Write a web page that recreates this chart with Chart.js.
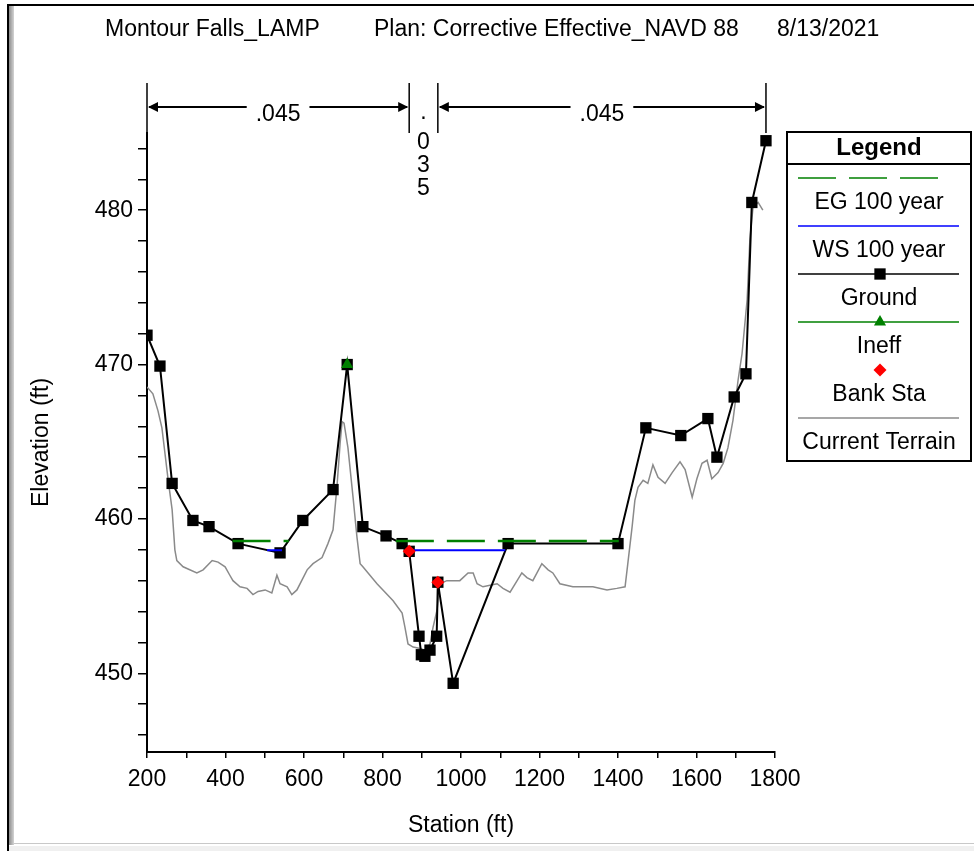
<!DOCTYPE html>
<html>
<head>
<meta charset="utf-8">
<title>Montour Falls_LAMP</title>
<script src="https://cdn.jsdelivr.net/npm/chart.js@4.4.1/dist/chart.umd.min.js"></script>
<style>
  html, body { margin: 0; padding: 0; background: #fff; }
  #wrap { position: relative; width: 974px; height: 851px; overflow: hidden; }
  #myChart { position: absolute; left: 0; top: 0; }
  .frame { position: absolute; }
  .f-top { left: 7px; top: 4px; right: 0; height: 2px; background: #000; }
  .f-left { left: 7px; top: 4px; width: 2px; bottom: 0; background: #000; }
  .f-left2 { left: 9px; top: 6px; width: 5px; height: 839px; background: linear-gradient(to right, #8c8c8c, #d4d4d4); }
  .f-bottom { left: 14px; top: 843px; right: 0; height: 1px; background: #c8c8c8; }
  .f-band { left: 9px; top: 846px; right: 0; bottom: 0; background: #f0f0f0; }
</style>
</head>
<body>
<div id="wrap">
  <canvas id="myChart" width="974" height="851"></canvas>
  <div class="frame f-top"></div>
  <div class="frame f-left"></div>
  <div class="frame f-left2"></div>
  <div class="frame f-bottom"></div>
  <div class="frame f-band"></div>
</div>
<script>
// header line
const titleParts = ["Montour Falls_LAMP", "Plan: Corrective Effective_NAVD 88", "8/13/2021"];

// manning's n regions (station breaks + values)
const nBounds = [200, 868, 941, 1777];
const nValues = [".045", ".035", ".045"];

// ground points (station, elevation)
const groundSta = [200, 233, 264, 317, 358, 432, 539, 597, 674, 710, 750, 809, 850, 868,
  893, 899, 908, 921, 938, 941, 980, 1120, 1400, 1471, 1560, 1629, 1652, 1696, 1726, 1741, 1777];
const groundElev = [471.9, 469.9, 462.3, 459.9, 459.5, 458.4, 457.8, 459.9, 461.9, 470.0, 459.5, 458.9, 458.4, 457.9,
  452.4, 451.2, 451.1, 451.5, 452.4, 455.9, 449.35, 458.4, 458.4, 465.9, 465.4, 466.5, 464.0, 467.9, 469.4, 480.5, 484.5];

// current terrain profile
const terrainSta = [200, 215, 228, 238, 246, 254, 264, 271, 276, 292, 327, 343, 366, 381, 399, 411, 419, 437,
  455, 470, 483, 501, 518, 531, 539, 557, 569, 582, 608, 623, 646, 661, 674, 684, 692, 697, 702, 712, 725,
  735, 743, 750, 786, 827, 850, 857, 865, 878, 896, 908, 921, 929, 939, 946, 964, 997, 1018, 1031, 1041,
  1056, 1074, 1092, 1107, 1125, 1143, 1155, 1168, 1183, 1206, 1222, 1234, 1252, 1285, 1336, 1372, 1397,
  1418, 1425, 1436, 1443, 1451, 1464, 1476, 1489, 1502, 1520, 1538, 1558, 1571, 1589, 1601, 1614, 1627,
  1639, 1655, 1668, 1680, 1693, 1706, 1716, 1729, 1736, 1744, 1757, 1769];
const terrainElev = [468.55, 468.1, 467.0, 465.9, 464.2, 462.5, 460.6, 458.0, 457.3, 456.9, 456.5, 456.7, 457.3,
  457.2, 456.9, 456.35, 456.0, 455.6, 455.5, 455.1, 455.3, 455.4, 455.2, 456.35, 455.8, 455.6, 455.1, 455.4,
  456.7, 457.1, 457.5, 458.4, 459.3, 462.1, 464.9, 466.3, 466.2, 464.6, 461.4, 458.8, 457.1, 456.9, 455.8,
  454.7, 453.9, 453.0, 451.9, 451.7, 451.6, 451.5, 451.9, 453.0, 454.1, 455.8, 456.0, 456.0, 456.5, 456.5,
  455.8, 455.6, 455.7, 455.8, 455.5, 455.25, 456.0, 456.5, 456.2, 456.0, 457.1, 456.7, 456.5, 455.8, 455.6,
  455.6, 455.4, 455.5, 455.6, 457.1, 459.5, 461.2, 462.05, 462.5, 462.3, 463.5, 462.7, 462.3, 463.0, 463.7,
  463.2, 461.4, 462.6, 463.6, 463.8, 462.6, 463.0, 463.6, 464.6, 466.4, 469.0, 470.7, 474.2, 478.1, 480.2,
  480.5, 480.0];

// energy grade / water surface, 100 year
const egLevel = 458.57;
const egReach = [[418, 561], [834, 1402]];
const wsLevel = 457.97;
const wsReach = [[506, 544], [866, 1113]];

const bankSta = [868, 941];
const bankElev = [457.9, 455.9];
const ineffSta = [710];
const ineffElev = [470.0];

// axis ticks
const xTicks = [200, 300, 400, 500, 600, 700, 800, 900, 1000, 1100, 1200, 1300, 1400, 1500, 1600, 1700, 1800];
const yTicks = [446, 448, 450, 452, 454, 456, 458, 460, 462, 464, 466, 468, 470, 472, 474, 476, 478, 480, 482, 484];

const FONT = "'Liberation Sans', Arial, sans-serif";

function zip(xs, ys) {
  return xs.map((x, i) => ({ x: x, y: ys[i] }));
}

function reachPoints(reaches, level) {
  const pts = [];
  reaches.forEach((r) => {
    pts.push({ x: r[0], y: level }, { x: r[1], y: level }, { x: r[1], y: null });
  });
  return pts;
}

// title line on top
const headerPlugin = {
  id: "header",
  afterDraw(chart) {
    const c = chart.ctx;
    const xs = [105, 374, 777];
    c.save();
    c.font = "23px " + FONT;
    c.fillStyle = "#000";
    c.textAlign = "left";
    c.textBaseline = "alphabetic";
    titleParts.forEach((t, i) => c.fillText(t, xs[i], 36));
    c.restore();
  },
};

// manning's n arrows above the plot
const nPlugin = {
  id: "manningN",
  afterDraw(chart) {
    const c = chart.ctx;
    const sx = chart.scales.x;
    const top = 83;
    const bot = chart.chartArea.top;
    const yA = 107;
    const px = nBounds.map((v) => sx.getPixelForValue(v));
    c.save();
    c.strokeStyle = "#000";
    c.fillStyle = "#000";
    c.lineWidth = 1.5;
    px.forEach((p) => {
      c.beginPath();
      c.moveTo(p, top);
      c.lineTo(p, bot);
      c.stroke();
    });
    c.font = "23px " + FONT;
    for (let i = 0; i < nValues.length; i++) {
      const p0 = px[i], p1 = px[i + 1];
      const cx = (p0 + p1) / 2;
      const tw = c.measureText(nValues[i]).width;
      if (p1 - p0 > tw + 40) {
        c.lineWidth = 2;
        c.beginPath();
        c.moveTo(p0 + 2, yA);
        c.lineTo(cx - tw / 2 - 9, yA);
        c.moveTo(cx + tw / 2 + 9, yA);
        c.lineTo(p1 - 2, yA);
        c.stroke();
        // arrow heads
        c.beginPath();
        c.moveTo(p0 + 1, yA);
        c.lineTo(p0 + 11, yA - 5);
        c.lineTo(p0 + 11, yA + 5);
        c.closePath();
        c.moveTo(p1 - 1, yA);
        c.lineTo(p1 - 11, yA - 5);
        c.lineTo(p1 - 11, yA + 5);
        c.closePath();
        c.fill();
        c.textAlign = "center";
        c.textBaseline = "alphabetic";
        c.fillText(nValues[i], cx, 121);
      } else {
        // too narrow, write it downwards
        c.textAlign = "center";
        c.textBaseline = "alphabetic";
        nValues[i].split("").forEach((ch, k) => {
          const m = c.measureText(ch);
          const h = m.actualBoundingBoxAscent - m.actualBoundingBoxDescent;
          c.fillText(ch, cx, 117 + k * 23 + h / 2);
        });
      }
    }
    c.restore();
  },
};

// boxed legend, hec-ras style
const legendPlugin = {
  id: "boxLegend",
  afterDraw(chart) {
    const c = chart.ctx;
    const L = 787, T = 132, R = 971, B = 461;
    const mid = (L + R) / 2;
    c.save();
    c.fillStyle = "#fff";
    c.fillRect(L, T, R - L, B - T);
    c.strokeStyle = "#000";
    c.lineWidth = 2;
    c.strokeRect(L, T, R - L, B - T);
    c.beginPath();
    c.moveTo(L, 164);
    c.lineTo(R, 164);
    c.stroke();
    c.fillStyle = "#000";
    c.textAlign = "center";
    c.textBaseline = "middle";
    c.font = "bold 24px " + FONT;
    c.fillText("Legend", mid, 148);
    c.font = "23px " + FONT;
    chart.data.datasets.forEach((ds, i) => {
      const sy = 178 + i * 48;
      if (ds.borderWidth > 0) {
        c.save();
        c.strokeStyle = ds.borderColor;
        c.lineWidth = 1.5;
        c.setLineDash(ds.borderDash || []);
        c.beginPath();
        c.moveTo(798, sy);
        c.lineTo(ds.borderDash ? 946 : 959, sy);
        c.stroke();
        c.restore();
      }
      if (ds.pointRadius > 0) {
        c.save();
        c.fillStyle = ds.pointBackgroundColor;
        Chart.helpers.drawPoint(c, { pointStyle: ds.pointStyle, radius: ds.pointRadius, rotation: 0, borderWidth: 0 }, 880, sy);
        c.restore();
      }
      c.fillStyle = "#000";
      c.fillText(ds.label, mid, sy + 25);
    });
    c.restore();
  },
};

const ctx = document.getElementById("myChart");

new Chart(ctx, {
  type: "line",
  data: {
    datasets: [
      {
        label: "EG 100 year",
        data: reachPoints(egReach, egLevel),
        borderColor: "#008000",
        borderWidth: 2.5,
        borderDash: [38, 13],
        pointRadius: 0,
        spanGaps: false,
        order: 2,
      },
      {
        label: "WS 100 year",
        data: reachPoints(wsReach, wsLevel),
        borderColor: "#0000ff",
        borderWidth: 2,
        pointRadius: 0,
        spanGaps: false,
        order: 3,
      },
      {
        label: "Ground",
        data: zip(groundSta, groundElev),
        borderColor: "#000",
        borderWidth: 2,
        pointStyle: "rect",
        pointRadius: 8,
        pointBackgroundColor: "#000",
        pointBorderColor: "#000",
        pointBorderWidth: 0,
        order: 4,
      },
      {
        label: "Ineff",
        data: zip(ineffSta, ineffElev),
        showLine: false,
        borderColor: "#008000",
        borderWidth: 1.5,
        pointStyle: "triangle",
        pointRadius: 7,
        pointBackgroundColor: "#008000",
        pointBorderColor: "#008000",
        pointBorderWidth: 0,
        order: 1,
      },
      {
        label: "Bank Sta",
        data: zip(bankSta, bankElev),
        showLine: false,
        borderColor: "#ff0000",
        borderWidth: 0,
        pointStyle: "rectRot",
        pointRadius: 6.5,
        pointBackgroundColor: "#ff0000",
        pointBorderColor: "#ff0000",
        pointBorderWidth: 0,
        order: 0,
      },
      {
        label: "Current Terrain",
        data: zip(terrainSta, terrainElev),
        borderColor: "#8a8a8a",
        borderWidth: 1.5,
        pointRadius: 0,
        order: 5,
      },
    ],
  },
  options: {
    responsive: false,
    animation: false,
    devicePixelRatio: 1,
    layout: {
      padding: { left: 0, top: 133, right: 199, bottom: 0 },
    },
    scales: {
      x: {
        type: "linear",
        min: 200,
        max: 1800,
        afterBuildTicks: (s) => {
          s.ticks = xTicks.map((v) => ({ value: v }));
        },
        afterFit: (s) => {
          s.height = 99;
        },
        ticks: {
          callback: (v) => (v % 200 === 0 ? v : ""),
          font: { family: FONT, size: 23 },
          color: "#000",
          maxRotation: 0,
          autoSkip: false,
          padding: 8,
        },
        grid: {
          drawOnChartArea: false,
          drawTicks: true,
          tickLength: 6,
          color: "#000",
          lineWidth: 1.5,
        },
        border: { color: "#000", width: 2 },
        title: {
          display: true,
          text: "Station (ft)",
          color: "#000",
          font: { family: FONT, size: 23 },
          padding: { top: 0, bottom: 12 },
        },
      },
      y: {
        type: "linear",
        min: 444.9,
        max: 485,
        afterBuildTicks: (s) => {
          s.ticks = yTicks.map((v) => ({ value: v }));
        },
        afterFit: (s) => {
          s.width = 147;
        },
        ticks: {
          callback: (v) => (v % 10 === 0 ? v : ""),
          font: { family: FONT, size: 23 },
          color: "#000",
          padding: 5,
        },
        grid: {
          drawOnChartArea: false,
          drawTicks: true,
          tickLength: 9,
          color: "#000",
          lineWidth: 1.5,
        },
        border: { color: "#000", width: 2 },
        title: {
          display: true,
          text: "Elevation (ft)",
          color: "#000",
          font: { family: FONT, size: 23 },
          padding: { top: 28, bottom: 0 },
        },
      },
    },
    plugins: {
      legend: { display: false },
      tooltip: { enabled: false },
    },
  },
  plugins: [headerPlugin, nPlugin, legendPlugin],
});
</script>
</body>
</html>
